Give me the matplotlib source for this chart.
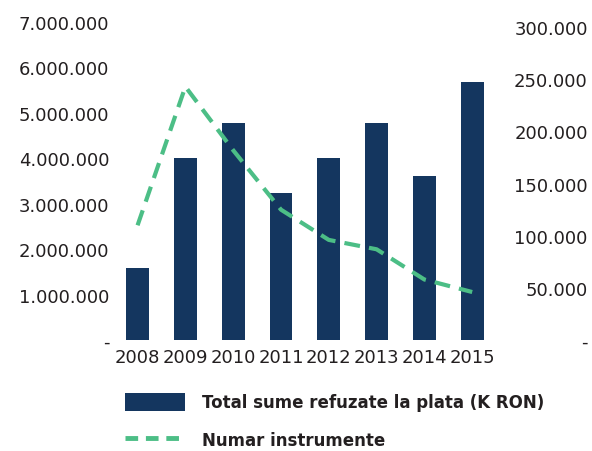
import matplotlib.pyplot as plt
from matplotlib.ticker import FuncFormatter
from matplotlib.patches import Patch
from matplotlib.lines import Line2D

# Data
years = ['2008', '2009', '2010', '2011', '2012', '2013', '2014', '2015']
sume_refuzate = [1580000, 4000000, 4780000, 3240000, 4000000, 4780000, 3610000, 5680000]
numar_instrumente = [110000, 243000, 182000, 125000, 96000, 87000, 58000, 46000]

bar_color = '#14365f'
line_color = '#4cbe86'
text_color = '#231f20'

plt.rcParams['font.family'] = ['DejaVu Sans']


def dot_fmt(v, pos):
    # thousands separated by dots, zero shown as a dash
    if v == 0:
        return '-'
    return f'{int(round(v)):,}'.replace(',', '.')


fig = plt.figure(figsize=(5.92, 4.52), dpi=100)
ax1 = fig.add_axes([0.192, 0.2456, 0.646, 0.7035])
ax2 = ax1.twinx()

x = list(range(len(years)))
ax1.bar(x, sume_refuzate, width=0.48, color=bar_color, zorder=2)
ax2.plot(x, numar_instrumente, color=line_color, lw=3, dashes=(3.8, 2.2), zorder=3)

ax1.set_xlim(-0.5, len(years) - 0.5)
ax1.set_ylim(0, 7000000)
ax2.set_ylim(0, 305000)
ax1.set_yticks(range(0, 7000001, 1000000))
ax2.set_yticks(range(0, 300001, 50000))
ax1.yaxis.set_major_formatter(FuncFormatter(dot_fmt))
ax2.yaxis.set_major_formatter(FuncFormatter(dot_fmt))
ax1.set_xticks(x)
ax1.set_xticklabels(years)

for ax in (ax1, ax2):
    for s in ax.spines.values():
        s.set_visible(False)
    ax.tick_params(length=0, labelsize=13, colors=text_color)
ax1.tick_params(axis='y', pad=3)
ax1.tick_params(axis='x', pad=6)
# right axis labels are right-aligned in the reference
ax2.tick_params(axis='y', pad=66)
for lab in ax2.get_yticklabels():
    lab.set_horizontalalignment('right')

handles = [Patch(facecolor=bar_color, edgecolor='none'),
           Line2D([0], [0], color=line_color, lw=3.5, dashes=(2.6, 1.6))]
labels = ['Total sume refuzate la plata (K RON)', 'Numar instrumente']
leg = fig.legend(handles, labels, loc='upper left', bbox_to_anchor=(0.186, 0.162),
                 frameon=False, handlelength=3.6, handleheight=1.3,
                 handletextpad=1.0, labelspacing=1.15, borderpad=0.4,
                 prop={'weight': 'bold', 'size': 12})
for t in leg.get_texts():
    t.set_color(text_color)

fig.savefig('out.png', dpi=100)
